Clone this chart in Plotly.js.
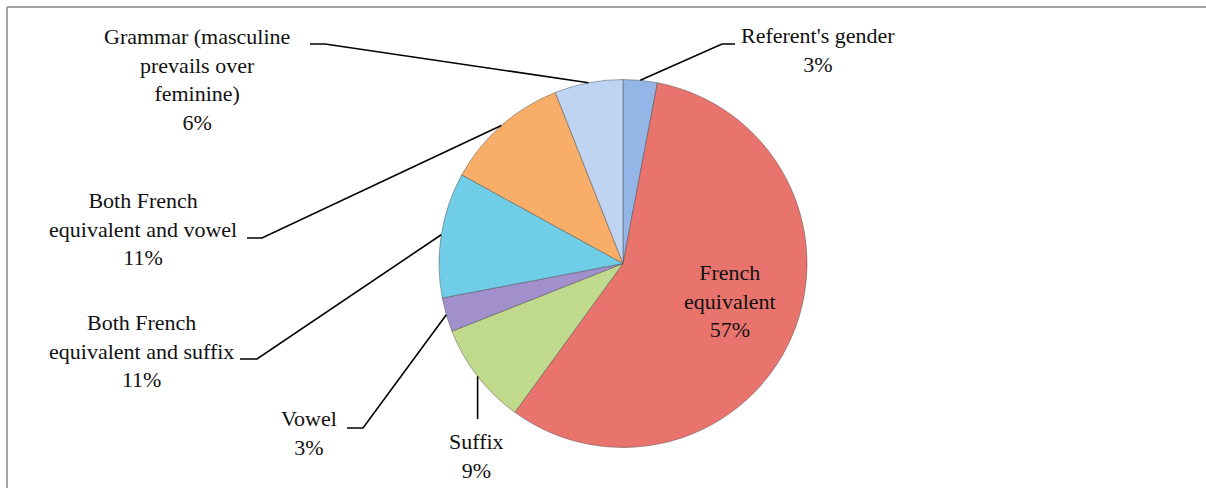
<!DOCTYPE html>
<html>
<head>
<meta charset="utf-8">
<script src="https://cdn.plot.ly/plotly-3.0.1.min.js"></script>
<style>
  html, body { margin: 0; padding: 0; background: #fff; overflow: hidden; }
  #chart { width: 1206px; height: 488px; }
</style>
</head>
<body>
<div id="chart"></div>
<script>
// ---- data ----
const categories = [
  "Referent's gender",
  "French equivalent",
  "Suffix",
  "Vowel",
  "Both French equivalent and suffix",
  "Both French equivalent and vowel",
  "Grammar (masculine prevails over feminine)"
];
const percentValues = [3, 57, 9, 3, 11, 11, 6];
const labelLines = [
  "Referent's gender",
  "French<br>equivalent",
  "Suffix",
  "Vowel",
  "Both French<br>equivalent and suffix",
  "Both French<br>equivalent and vowel",
  "Grammar (masculine<br>prevails over<br>feminine)"
];
const sliceColors = ["#93B6E7", "#E9746E", "#C0DA8D", "#A190CB", "#70CDE7", "#F8AE69", "#BED4F2"];

// ---- layout config (pixels) ----
const W = 1206, H = 488;
const CX = 623, CY = 263.5, R = 184;
const FONT = "Liberation Serif, Times New Roman, serif";
const FS = 22;
// label block centres and leader elbows (label-side segment)
const labelCfg = [
  {x: 818, y: 50,  seg: [[735, 44], [722, 44]]},
  {x: 730, y: 301, inside: true},
  {x: 476, y: 456, vertical: 419},
  {x: 309, y: 433, seg: [[347, 428], [363, 428]]},
  {x: 141, y: 351, seg: [[240, 359], [257, 359]]},
  {x: 143, y: 229, seg: [[247, 238], [262, 238]]},
  {x: 197, y: 80,  seg: [[310, 44], [325, 44]]}
];

const px = x => x / W;
const py = y => 1 - y / H;

const total = percentValues.reduce((a, b) => a + b, 0);
const annotations = [];
const shapes = [];
let cum = 0;
percentValues.forEach((v, i) => {
  const mid = (cum + v / 2) / total * 2 * Math.PI;
  cum += v;
  const cfg = labelCfg[i];
  const pct = Math.round(v / total * 100) + "%";
  annotations.push({
    xref: "paper", yref: "paper",
    x: px(cfg.x), y: py(cfg.y),
    xanchor: "center", yanchor: "middle",
    text: labelLines[i] + "<br>" + pct,
    showarrow: false, align: "center",
    font: {family: FONT, size: FS, color: "#111"}
  });
  if (!cfg.inside) {
    const rx = CX + R * Math.sin(mid);
    const ry = CY - R * Math.cos(mid);
    const seg = cfg.vertical ? [[rx, cfg.vertical]] : cfg.seg;
    const pts = seg.concat([[rx, ry]]);
    let d = "";
    pts.forEach((p, k) => { d += (k ? " L " : "M ") + px(p[0]) + "," + py(p[1]); });
    shapes.push({
      type: "path", xref: "paper", yref: "paper", path: d,
      line: {color: "#000", width: 1.6}
    });
  }
});

// frame (left and top edges visible in the reference)
shapes.push({type: "line", xref: "paper", yref: "paper",
  x0: px(7), x1: px(7), y0: py(7), y1: py(H + 5), line: {color: "#A3A3A3", width: 2}});
shapes.push({type: "line", xref: "paper", yref: "paper",
  x0: px(7), x1: px(W + 5), y0: py(7), y1: py(7), line: {color: "#A3A3A3", width: 2}});

const trace = {
  type: "pie",
  labels: categories,
  values: percentValues,
  sort: false,
  direction: "clockwise",
  rotation: 0,
  textinfo: "none",
  hoverinfo: "label+percent",
  marker: {colors: sliceColors, line: {color: "rgba(70,70,70,0.45)", width: 1}},
  domain: {x: [px(CX - R), px(CX + R)], y: [py(CY + R), py(CY - R)]},
  showlegend: false
};

const layout = {
  width: W, height: H,
  margin: {l: 0, r: 0, t: 0, b: 0},
  paper_bgcolor: "#fff",
  showlegend: false,
  annotations: annotations,
  shapes: shapes
};

Plotly.newPlot("chart", [trace], layout, {staticPlot: true, displayModeBar: false});
</script>
</body>
</html>
